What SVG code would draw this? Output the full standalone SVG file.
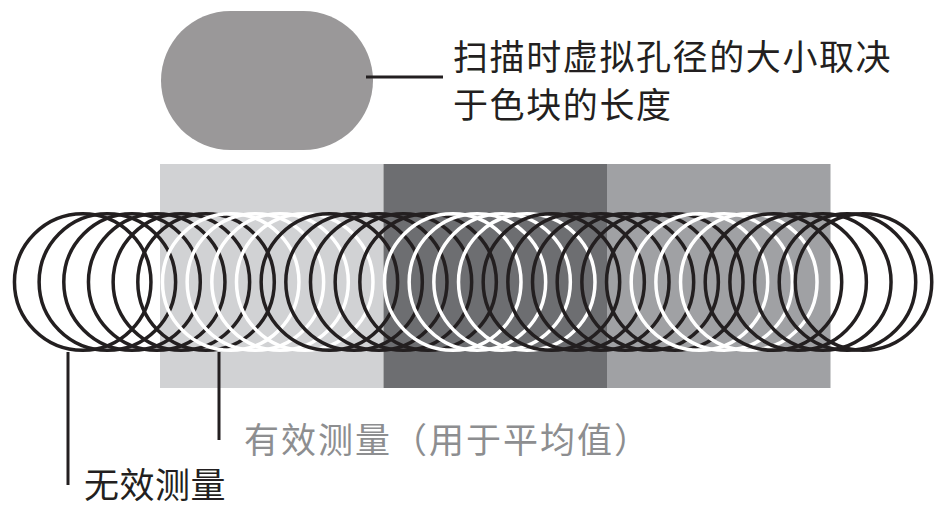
<svg xmlns="http://www.w3.org/2000/svg" width="935" height="508" viewBox="0 0 935 508">
  <style>
    .t { font-family: "Noto Sans CJK SC", "Noto Sans", sans-serif; font-size: 35px; fill: #231f20; }
    .g { fill: #8d8e90; }
    .b { fill: none; stroke: #231f20; stroke-width: 3.5; }
    .w { fill: none; stroke: #ffffff; stroke-width: 3.5; }
    .ln { fill: none; stroke: #231f20; stroke-width: 3; }
  </style>
  <rect width="935" height="508" fill="#ffffff"/>

  <g id="aperture">
    <rect x="161" y="11" width="212" height="139" rx="69.5" ry="69.5" fill="#9a9899"/>
  </g>

  <g id="aperture-label">
    <text class="t" x="453" y="70" font-size="36" letter-spacing="1.6">扫描时虚拟孔径的大小取决</text>
    <text class="t" x="453" y="118" font-size="36" letter-spacing="1.6">于色块的长度</text>
  </g>

  <g id="color-blocks">
    <rect x="160" y="164" width="223.5" height="224" fill="#d1d2d4"/>
    <rect x="383.5" y="164" width="223.5" height="224" fill="#6d6e71"/>
    <rect x="607" y="164" width="223.5" height="224" fill="#a0a1a4"/>
  </g>

  <g id="scan-circles">
    <circle class="b" cx="82.7" cy="282" r="68.25"/>
    <circle class="b" cx="107.37" cy="282" r="68.25"/>
    <circle class="b" cx="132.04" cy="282" r="68.25"/>
    <circle class="b" cx="156.71" cy="282" r="68.25"/>
    <circle class="b" cx="181.38" cy="282" r="68.25"/>
    <circle class="b" cx="206.05" cy="282" r="68.25"/>
    <circle class="w" cx="230.72" cy="282" r="68.25"/>
    <circle class="w" cx="255.39" cy="282" r="68.25"/>
    <circle class="w" cx="280.06" cy="282" r="68.25"/>
    <circle class="w" cx="304.73" cy="282" r="68.25"/>
    <circle class="b" cx="329.4" cy="282" r="68.25"/>
    <circle class="b" cx="354.07" cy="282" r="68.25"/>
    <circle class="b" cx="378.74" cy="282" r="68.25"/>
    <circle class="b" cx="403.41" cy="282" r="68.25"/>
    <circle class="b" cx="428.08" cy="282" r="68.25"/>
    <circle class="w" cx="452.75" cy="282" r="68.25"/>
    <circle class="w" cx="477.42" cy="282" r="68.25"/>
    <circle class="w" cx="502.09" cy="282" r="68.25"/>
    <circle class="w" cx="526.76" cy="282" r="68.25"/>
    <circle class="b" cx="551.43" cy="282" r="68.25"/>
    <circle class="b" cx="576.1" cy="282" r="68.25"/>
    <circle class="b" cx="600.77" cy="282" r="68.25"/>
    <circle class="b" cx="625.44" cy="282" r="68.25"/>
    <circle class="b" cx="650.11" cy="282" r="68.25"/>
    <circle class="b" cx="674.78" cy="282" r="68.25"/>
    <circle class="w" cx="699.45" cy="282" r="68.25"/>
    <circle class="w" cx="724.12" cy="282" r="68.25"/>
    <circle class="w" cx="748.79" cy="282" r="68.25"/>
    <circle class="b" cx="773.46" cy="282" r="68.25"/>
    <circle class="b" cx="798.13" cy="282" r="68.25"/>
    <circle class="b" cx="822.8" cy="282" r="68.25"/>
    <circle class="b" cx="847.47" cy="282" r="68.25"/>
    <circle class="b" cx="863.5" cy="282" r="68.25"/>
  </g>

  <g id="connectors">
    <line class="ln" x1="366" y1="77" x2="443" y2="77"/>
    <line class="ln" x1="219" y1="352" x2="219" y2="440"/>
    <line class="ln" x1="68" y1="352" x2="68" y2="485"/>
  </g>

  <g id="valid-label">
    <text class="t g" x="244" y="453" font-size="34" letter-spacing="2">有效测量（用于平均值）</text>
  </g>
  <g id="invalid-label">
    <text class="t" x="84" y="498" font-size="34" letter-spacing="0.5">无效测量</text>
  </g>
</svg>
